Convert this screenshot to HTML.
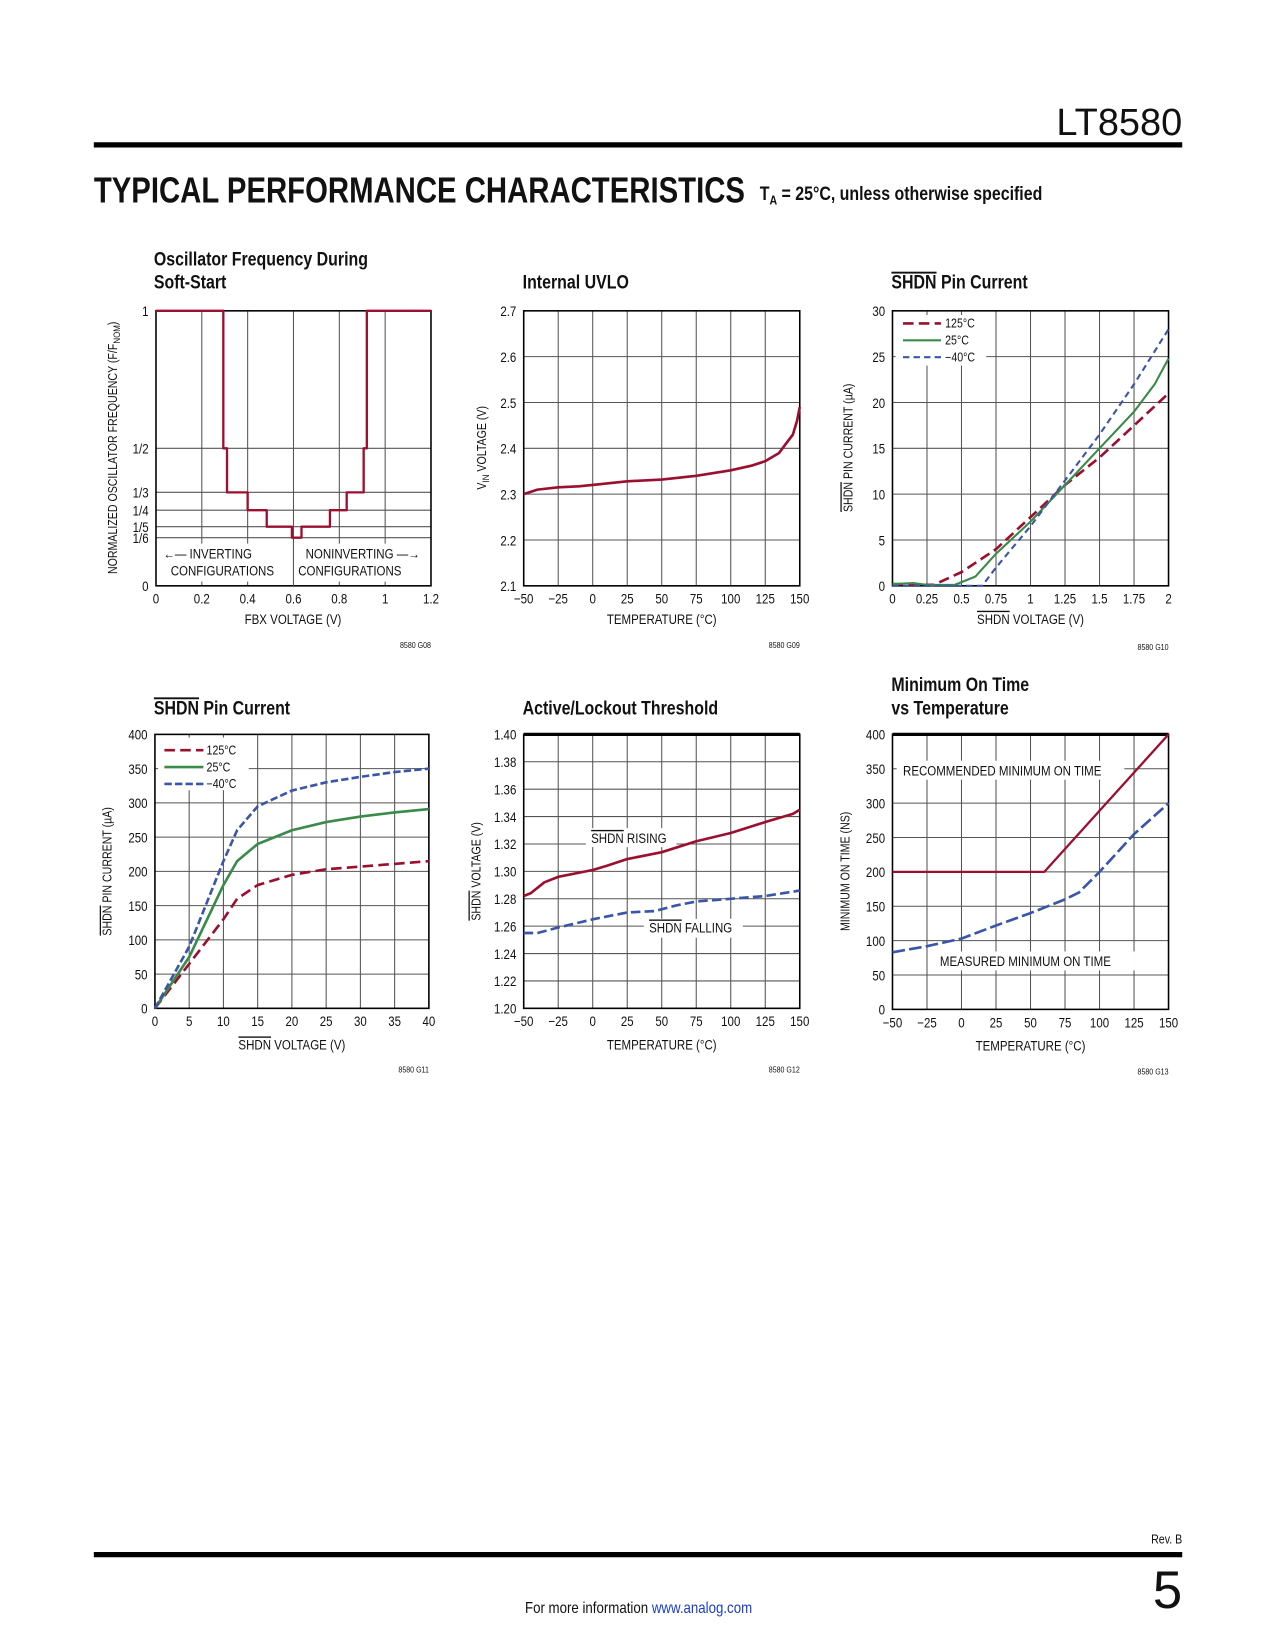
<!DOCTYPE html>
<html><head><meta charset="utf-8"><style>
html,body{margin:0;padding:0;background:#fff;}
svg{display:block;}
text{font-family:"Liberation Sans Narrow","Liberation Sans",sans-serif;fill:#111;}
</style></head><body>
<svg id="page" width="1275" height="1650" viewBox="0 0 1210 1566" xmlns="http://www.w3.org/2000/svg">
<text class="nc" x="1122" y="128" text-anchor="end" font-size="36" style="font-family:'Liberation Sans',sans-serif">LT8580</text>
<rect x="89" y="135" width="1033" height="5" fill="#000"/>
<text class="nc" x="89" y="192" font-size="34" font-weight="bold" textLength="618" lengthAdjust="spacingAndGlyphs" style="font-family:'Liberation Sans Narrow',sans-serif;font-weight:900">TYPICAL PERFORMANCE CHARACTERISTICS</text>
<text x="721" y="190" font-size="18" font-weight="bold">T<tspan font-size="12" dy="4">A</tspan><tspan dy="-4"> = 25°C, unless otherwise specified</tspan></text>
<rect x="89" y="1473" width="1033" height="5" fill="#000"/>
<text x="1122" y="1465" text-anchor="end" font-size="12">Rev. B</text>
<text class="nc" x="1122" y="1526" text-anchor="end" font-size="50" style="font-family:'Liberation Sans',sans-serif">5</text>
<text x="606" y="1531" text-anchor="middle" font-size="15">For more information <tspan fill="#1a3ccc" style="fill:#1a3ccc">www.analog.com</tspan></text>
<g id="charts"></g>
</svg>
<script>
// ---- Chart 1: Oscillator frequency vs FBX
const c1X = [0,0.294,0.294,0.31,0.31,0.40,0.40,0.483,0.483,0.593,0.593,0.635,0.635,0.759,0.759,0.832,0.832,0.906,0.906,0.92,0.92,1.2];
const c1Y = [1,1,0.5,0.5,0.34,0.34,0.275,0.275,0.215,0.215,0.175,0.175,0.215,0.215,0.275,0.275,0.34,0.34,0.5,0.5,1,1];
const c1YTicks = [0,0.175,0.215,0.275,0.34,0.5,1];
const c1YLabels = ['0','1/6','1/5','1/4','1/3','1/2','1'];
const c1XTicks = [0,0.2,0.4,0.6,0.8,1,1.2];
const c1XLabels = ['0','0.2','0.4','0.6','0.8','1','1.2'];
// ---- Chart 2: Internal UVLO
const c2X = [-50,-40,-25,-10,0,25,50,75,100,115,125,135,140,145,148,150];
const c2Y = [2.30,2.31,2.315,2.317,2.32,2.328,2.332,2.34,2.352,2.362,2.372,2.39,2.41,2.43,2.46,2.49];
const tempTicks = [-50,-25,0,25,50,75,100,125,150];
const tempLabels = ['\u221250','\u221225','0','25','50','75','100','125','150'];
const c2YTicks = [2.1,2.2,2.3,2.4,2.5,2.6,2.7];
const c2YLabels = ['2.1','2.2','2.3','2.4','2.5','2.6','2.7'];
// ---- Chart 3: SHDN pin current (low)
const c3X125 = [0,0.2,0.3,0.5,0.75,1,1.25,1.5,1.75,2];
const c3Y125 = [0.2,0.1,0.1,1.5,4,7.5,11,14,17.5,21];
const c3X25 = [0,0.15,0.25,0.45,0.6,0.75,1,1.25,1.5,1.75,1.9,2];
const c3Y25 = [0.2,0.3,0.1,0.1,1,3.5,7,11,15,19,22,24.8];
const c3Xm40 = [0,0.5,0.65,0.75,1,1.25,1.5,1.75,2];
const c3Ym40 = [0,0,0,2,6.5,11.5,16.5,22,28];
const c3XTicks = [0,0.25,0.5,0.75,1,1.25,1.5,1.75,2];
const c3XLabels = ['0','0.25','0.5','0.75','1','1.25','1.5','1.75','2'];
const c3YTicks = [0,5,10,15,20,25,30];
const c3YLabels = ['0','5','10','15','20','25','30'];
// ---- Chart 4: SHDN pin current (high)
const c4X = [0,5,10,12,15,20,25,30,35,40];
const c4Y125 = [0,65,130,160,180,195,203,207,211,215];
const c4Y25 = [0,75,180,215,240,260,272,280,286,291];
const c4Ym40 = [0,90,215,260,295,318,330,338,345,350];
const c4XTicks = [0,5,10,15,20,25,30,35,40];
const c4XLabels = ['0','5','10','15','20','25','30','35','40'];
const c4YTicks = [0,50,100,150,200,250,300,350,400];
const c4YLabels = ['0','50','100','150','200','250','300','350','400'];
// ---- Chart 5: Active/Lockout threshold
const c5XR = [-50,-45,-35,-25,0,10,25,40,50,75,100,125,145,150];
const c5YR = [1.282,1.284,1.292,1.296,1.301,1.304,1.309,1.312,1.314,1.322,1.328,1.336,1.342,1.345];
const c5XF = [-50,-40,-25,0,25,45,60,75,100,125,150];
const c5YF = [1.255,1.255,1.259,1.265,1.27,1.271,1.275,1.278,1.28,1.282,1.286];
const c5YTicks = [1.20,1.22,1.24,1.26,1.28,1.30,1.32,1.34,1.36,1.38,1.40];
const c5YLabels = ['1.20','1.22','1.24','1.26','1.28','1.30','1.32','1.34','1.36','1.38','1.40'];
// ---- Chart 6: Minimum on time
const c6XRec = [-50,60,150];
const c6YRec = [200,200,400];
const c6XMeas = [-50,-25,0,25,50,75,85,100,125,150];
const c6YMeas = [83,92,103,122,140,160,170,200,255,300];

const NS='http://www.w3.org/2000/svg';
const root=document.getElementById('charts');
function el(tag,attrs,parent){const e=document.createElementNS(NS,tag);for(const k in attrs)e.setAttribute(k,attrs[k]);(parent||root).appendChild(e);return e;}
const RED='#9b0f2f',GREEN='#3a8a4a',BLUE='#3b55a8';

function makeChart(name,box,xr,yr,xt,xl,yt,yl){
  const g=el('g',{});
  
  
  const sx=v=>box[0]+(v-xr[0])/(xr[1]-xr[0])*(box[2]-box[0]);
  const sy=v=>box[3]-(v-yr[0])/(yr[1]-yr[0])*(box[3]-box[1]);
  xt.forEach((v,i)=>{
    if(i>0&&i<xt.length-1){const l=el('line',{x1:sx(v),x2:sx(v),y1:box[1],y2:box[3],stroke:'#555','stroke-width':1},g);
      }
    const t=el('text',{x:sx(v),y:box[3]+17,'text-anchor':'middle','font-size':13},g);t.textContent=xl[i];
    
  });
  yt.forEach((v,i)=>{
    if(i>0&&i<yt.length-1){const l=el('line',{x1:box[0],x2:box[2],y1:sy(v),y2:sy(v),stroke:'#555','stroke-width':1},g);
      }
    const t=el('text',{x:box[0]-7,y:sy(v)+5,'text-anchor':'end','font-size':13},g);t.textContent=yl[i];
    
  });
  const f=el('rect',{x:box[0],y:box[1],width:box[2]-box[0],height:box[3]-box[1],fill:'none',stroke:'#000','stroke-width':1.5},g);
  
  return {g,sx,sy,box};
}
function series(c,name,xs,ys,color,dash,w){
  const d=xs.map((x,i)=>(i?'L':'M')+c.sx(x).toFixed(1)+','+c.sy(ys[i]).toFixed(1)).join('');
  const p=el('path',{d:d,fill:'none',stroke:color,'stroke-width':w||2.5,'stroke-dasharray':dash||'none','stroke-linejoin':'round'},c.g);
  
  
}
function txt(parent,name,x,y,s,size,opts){
  const t=el('text',Object.assign({x:x,y:y,'font-size':size||13},opts||{}),parent);
  t.innerHTML=s;
  
  
  return t;
}
function whiteBox(c,x,y,w,h){const r=el('rect',{x:x,y:y,width:w,height:h,fill:'#fff'},c.g);
  }
const OL='<tspan style="text-decoration:overline">SHDN</tspan>';

// Chart 1
let c=makeChart('chart-oscillator-frequency',[148,295,409,556],[0,1.2],[0,1],c1XTicks,c1XLabels,c1YTicks,c1YLabels);
whiteBox(c,152,516,122,36);whiteBox(c,282,516,124,36);
const vl=el('line',{x1:c.sx(0.6),x2:c.sx(0.6),y1:c.sy(0.175),y2:556,stroke:'#555'},c.g);

series(c,'frequency-step-line',c1X,c1Y,RED,null,2.2);
txt(c.g,'inverting-label',155,530,'\u2190\u2014 INVERTING',13);
txt(c.g,'inverting-config-label',162,546,'CONFIGURATIONS',13);
txt(c.g,'noninverting-label',290,530,'NONINVERTING \u2014\u2192',13);
txt(c.g,'noninverting-config-label',283,546,'CONFIGURATIONS',13);
txt(root,'chart1-title',146,252,'Oscillator Frequency During',18,{'font-weight':'bold'});
txt(root,'chart1-title-2',146,274,'Soft-Start',18,{'font-weight':'bold'});
txt(root,'chart1-x-title',278,592,'FBX VOLTAGE (V)',13,{'text-anchor':'middle'});
txt(root,'chart1-y-title',0,0,'NORMALIZED OSCILLATOR FREQUENCY (F/F<tspan font-size="9" dy="3">NOM</tspan><tspan dy="-3">)</tspan>',12,{'text-anchor':'middle',transform:'translate(111,425) rotate(-90)'});
txt(root,'chart1-id',409,615,'8580 G08',8,{'text-anchor':'end'});

// Chart 2
c=makeChart('chart-internal-uvlo',[497,295,759,556],[-50,150],[2.1,2.7],tempTicks,tempLabels,c2YTicks,c2YLabels);
series(c,'uvlo-line',c2X,c2Y,RED);
txt(root,'chart2-title',496,274,'Internal UVLO',18,{'font-weight':'bold'});
txt(root,'chart2-x-title',628,592,'TEMPERATURE (°C)',13,{'text-anchor':'middle'});
txt(root,'chart2-y-title',0,0,'V<tspan font-size="9" dy="3">IN</tspan><tspan dy="-3"> VOLTAGE (V)</tspan>',12,{'text-anchor':'middle',transform:'translate(461,425) rotate(-90)'});
txt(root,'chart2-id',759,615,'8580 G09',8,{'text-anchor':'end'});

// Chart 3
c=makeChart('chart-shdn-current-low',[847,295,1109,556],[0,2],[0,30],c3XTicks,c3XLabels,c3YTicks,c3YLabels);
whiteBox(c,850,299,86,48);
series(c,'series-125c',c3X125,c3Y125,RED,'10,5');
series(c,'series-25c',c3X25,c3Y25,GREEN,null,2);
series(c,'series-minus40c',c3Xm40,c3Ym40,BLUE,'6,4',2);
[[RED,'10,5',2.5,'125°C',307],[GREEN,'none',2,'25°C',323],[BLUE,'6,4',2,'\u221240°C',339]].forEach(a=>{
  const l=el('line',{x1:857,x2:893,y1:a[4],y2:a[4],stroke:a[0],'stroke-width':a[2],'stroke-dasharray':a[1]},c.g);
  
  txt(c.g,'legend-entry',897,a[4]+4,a[3],12);
});
txt(root,'chart3-title',846,274,OL+' Pin Current',18,{'font-weight':'bold'});
txt(root,'chart3-x-title',978,592,OL+' VOLTAGE (V)',13,{'text-anchor':'middle'});
txt(root,'chart3-y-title',0,0,OL+' PIN CURRENT (µA)',12,{'text-anchor':'middle',transform:'translate(809,425) rotate(-90)'});
txt(root,'chart3-id',1109,617,'8580 G10',8,{'text-anchor':'end'});

// Chart 4
c=makeChart('chart-shdn-current-high',[147,697,407,957],[0,40],[0,400],c4XTicks,c4XLabels,c4YTicks,c4YLabels);
whiteBox(c,150,700,86,50);
series(c,'series-125c',c4X,c4Y125,RED,'10,5');
series(c,'series-25c',c4X,c4Y25,GREEN);
series(c,'series-minus40c',c4X,c4Ym40,BLUE,'7,3');
[[RED,'10,5','125°C',712],[GREEN,'none','25°C',728],[BLUE,'7,3','\u221240°C',744]].forEach(a=>{
  const l=el('line',{x1:156,x2:193,y1:a[3],y2:a[3],stroke:a[0],'stroke-width':2.5,'stroke-dasharray':a[1]},c.g);
  
  txt(c.g,'legend-entry',196,a[3]+4,a[2],12);
});
txt(root,'chart4-title',146,678,OL+' Pin Current',18,{'font-weight':'bold'});
txt(root,'chart4-x-title',277,996,OL+' VOLTAGE (V)',13,{'text-anchor':'middle'});
txt(root,'chart4-y-title',0,0,OL+' PIN CURRENT (µA)',12,{'text-anchor':'middle',transform:'translate(106,827) rotate(-90)'});
txt(root,'chart4-id',407,1018,'8580 G11',8,{'text-anchor':'end'});

// Chart 5
c=makeChart('chart-active-lockout',[497,697,759,957],[-50,150],[1.2,1.4],tempTicks,tempLabels,c5YTicks,c5YLabels);
const tl=el('line',{x1:497,x2:759,y1:697,y2:697,stroke:'#000','stroke-width':3},c.g);

whiteBox(c,556,786,86,18);whiteBox(c,611,872,94,18);
series(c,'shdn-rising-line',c5XR,c5YR,RED);
series(c,'shdn-falling-line',c5XF,c5YF,BLUE,'9,4');
txt(c.g,'rising-label',561,800,OL+' RISING',13);
txt(c.g,'falling-label',616,885,OL+' FALLING',13);
txt(root,'chart5-title',496,678,'Active/Lockout Threshold',18,{'font-weight':'bold'});
txt(root,'chart5-x-title',628,996,'TEMPERATURE (°C)',13,{'text-anchor':'middle'});
txt(root,'chart5-y-title',0,0,OL+' VOLTAGE (V)',12,{'text-anchor':'middle',transform:'translate(456,827) rotate(-90)'});
txt(root,'chart5-id',759,1018,'8580 G12',8,{'text-anchor':'end'});

// Chart 6
c=makeChart('chart-minimum-on-time',[847,697,1109,958],[-50,150],[0,400],tempTicks,tempLabels,c4YTicks,c4YLabels);
const tl2=el('line',{x1:847,x2:1109,y1:697,y2:697,stroke:'#000','stroke-width':3},c.g);

whiteBox(c,851,722,216,18);whiteBox(c,887,903,190,18);
series(c,'recommended-line',c6XRec,c6YRec,RED,null,2.2);
series(c,'measured-line',c6XMeas,c6YMeas,BLUE,'12,4');
txt(c.g,'recommended-label',857,736,'RECOMMENDED MINIMUM ON TIME',13);
txt(c.g,'measured-label',892,917,'MEASURED MINIMUM ON TIME',13);
txt(root,'chart6-title',846,656,'Minimum On Time',18,{'font-weight':'bold'});
txt(root,'chart6-title-2',846,678,'vs Temperature',18,{'font-weight':'bold'});
txt(root,'chart6-x-title',978,997,'TEMPERATURE (°C)',13,{'text-anchor':'middle'});
txt(root,'chart6-y-title',0,0,'MINIMUM ON TIME (NS)',12,{'text-anchor':'middle',transform:'translate(806,827) rotate(-90)'});
txt(root,'chart6-id',1109,1020,'8580 G13',8,{'text-anchor':'end'});

// condense text to mimic narrow typeface
document.querySelectorAll('svg text').forEach(t=>{
  if(t.classList.contains('nc'))return;
  const L=t.getComputedTextLength();
  if(L>0){t.setAttribute('textLength',(L*0.84).toFixed(1));t.setAttribute('lengthAdjust','spacingAndGlyphs');}
});
</script>
</body></html>
